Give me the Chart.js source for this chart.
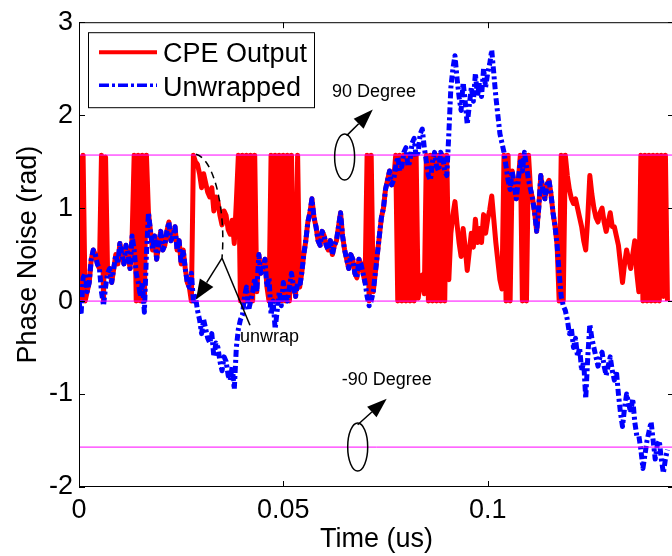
<!DOCTYPE html>
<html>
<head>
<meta charset="utf-8">
<script src="https://cdn.jsdelivr.net/npm/chart.js@4.4.1/dist/chart.umd.min.js"></script>
<style>
  html, body { margin: 0; padding: 0; background: #fff; overflow: hidden; }
  #wrap { position: relative; width: 676px; height: 556px; }
</style>
</head>
<body>
<div id="wrap"><canvas id="phaseChart" width="676" height="556"></canvas></div>
<script>
// sample spacing of the traces (us)
const timeStep = 0.0005;

// unwrapped phase (rad)
const unwrapped = [
  0.0, -0.15, 0.25, 0.3, 0.1, 0.2, 0.45, 0.55, 0.5, 0.4,
  0.35, 0.1, -0.05, 0.15, 0.3, 0.35, 0.2, 0.35, 0.5, 0.4,
  0.62, 0.5, 0.4, 0.6, 0.5, 0.35, 0.7, 0.55, 0.3, 0.2,
  0.05, 0.2, -0.12, 0.5, 0.95, 0.75, 0.55, 0.7, 0.45, 0.6,
  0.75, 0.55, 0.6, 0.75, 0.85, 0.65, 0.7, 0.8, 0.55, 0.65,
  0.4, 0.55, 0.35, 0.2, 0.15, 0.3, 0.0, 0.05, -0.1, -0.2,
  -0.35, -0.2, -0.3, -0.4, -0.45, -0.35, -0.6, -0.45, -0.5, -0.65,
  -0.75, -0.6, -0.65, -0.8, -0.85, -0.7, -0.95, -0.5, -0.3, -0.2,
  -0.15, 0.05, 0.15, -0.1, 0.0, 0.1, 0.25, 0.1, 0.5, 0.3,
  0.35, 0.45, 0.15, 0.25, -0.15, 0.0, -0.3, -0.1, 0.1, -0.05,
  0.2, 0.05, 0.0, 0.15, 0.3, 0.15, 0.05, 0.2, 0.15, 0.3,
  0.5, 0.65, 0.85, 0.95, 1.1, 0.9, 0.8, 0.65, 0.6, 0.75,
  0.7, 0.6, 0.55, 0.65, 0.5, 0.6, 0.65, 0.8, 0.95, 0.7,
  0.55, 0.45, 0.35, 0.5, 0.45, 0.3, 0.25, 0.45, 0.4, 0.3,
  0.2, 0.05, -0.05, 0.0, 0.1, 0.3, 0.5, 0.7, 0.9, 1.0,
  1.2, 1.3, 1.4, 1.25, 1.3, 1.45, 1.55, 1.4, 1.45, 1.6,
  1.65, 1.45, 1.5, 1.7, 1.75, 1.55, 1.6, 1.8, 1.85, 1.65,
  1.5, 1.35, 1.3, 1.5, 1.6, 1.45, 1.4, 1.6, 1.55, 1.4,
  1.35, 1.8, 2.3, 2.5, 2.64, 2.4, 2.2, 2.05, 2.35, 2.15,
  1.9, 2.1, 2.3, 2.15, 2.45, 2.2, 2.35, 2.2, 2.5, 2.3,
  2.45, 2.55, 2.7, 2.45, 2.2, 2.0, 1.8, 1.7, 1.6, 1.45,
  1.3, 1.2, 1.4, 1.25, 1.1, 1.3, 1.5, 1.4, 1.6, 1.45,
  1.3, 1.2, 1.1, 0.95, 0.75, 1.0, 1.35, 1.2, 1.1, 1.25,
  1.3, 1.15, 0.95, 0.8, 0.6, 0.3, 0.05, -0.05, -0.1, -0.2,
  -0.35, -0.3, -0.5, -0.4, -0.6, -0.5, -0.75, -0.65, -1.05, -0.6,
  -0.25, -0.4, -0.5, -0.6, -0.7, -0.6, -0.55, -0.7, -0.8, -0.7,
  -0.6, -0.75, -0.85, -0.75, -1.0, -1.2, -1.35, -1.15, -1.0, -1.1,
  -1.2, -1.05, -1.3, -1.45, -1.45, -1.6, -1.8, -1.65, -1.5, -1.4,
  -1.3, -1.5, -1.7, -1.55, -1.5, -1.7, -1.85, -1.7, -1.6
];

// CPE output (rad), wrapped into [0, pi/2], same samples
const cpeOutput = [
  1.57, 0.0, 1.57, 0.0, 0.1, 0.2, 0.45, 0.55, 0.5, 0.4,
  0.35, 1.57, 0.0, 1.55, 0.3, 0.35, 0.2, 0.35, 0.5, 0.4,
  0.62, 0.5, 0.4, 0.6, 0.5, 0.35, 0.7, 1.57, 0.0, 1.57,
  0.0, 1.57, 0.0, 1.57, 0.95, 0.75, 0.55, 0.7, 0.45, 0.6,
  0.75, 0.55, 0.6, 0.75, 0.85, 0.65, 0.7, 0.8, 0.55, 0.65,
  0.4, 0.55, 0.35, 0.2, 0.15, 0.0, 1.57, 1.5, 1.47, 1.37,
  1.22, 1.37, 1.27, 1.17, 1.12, 1.22, 0.97, 1.12, 1.07, 0.92,
  0.82, 0.97, 0.92, 0.77, 0.72, 0.87, 0.62, 1.07, 1.57, 0.0,
  1.57, 0.0, 1.57, 0.0, 1.57, 0.0, 1.57, 0.1, 0.5, 0.3,
  0.35, 0.45, 0.15, 0.0, 1.57, 0.0, 1.57, 0.0, 1.57, 0.0,
  1.57, 0.0, 1.57, 0.0, 1.57, 0.2, 0.05, 1.57, 0.15, 0.3,
  0.5, 0.65, 0.85, 0.95, 1.1, 0.9, 0.8, 0.65, 0.6, 0.75,
  0.7, 0.6, 0.55, 0.65, 0.5, 0.6, 0.65, 0.8, 0.95, 0.7,
  0.55, 0.45, 0.35, 0.5, 0.45, 0.3, 0.25, 0.45, 0.4, 0.3,
  0.2, 1.57, 0.0, 1.57, 0.1, 0.3, 0.5, 0.7, 0.9, 1.0,
  1.2, 1.3, 1.4, 1.25, 1.3, 1.57, 0.0, 1.57, 0.0, 1.57,
  0.0, 1.57, 0.0, 1.57, 0.0, 1.57, 0.03, 0.2, 0.28, 0.08,
  1.57, 0.0, 1.57, 0.0, 1.57, 0.0, 1.57, 0.0, 1.57, 0.0,
  1.57, 0.23, 0.73, 0.93, 1.07, 0.83, 0.63, 0.48, 0.78, 0.58,
  0.33, 0.53, 0.73, 0.58, 0.88, 0.63, 0.78, 0.63, 0.93, 0.73,
  0.88, 0.98, 1.13, 0.88, 0.63, 0.43, 0.23, 0.13, 1.57, 0.0,
  1.57, 0.0, 1.4, 1.25, 1.1, 1.3, 1.57, 0.0, 1.57, 0.0,
  1.57, 1.2, 1.1, 0.95, 0.75, 1.0, 1.35, 1.2, 1.1, 1.25,
  1.3, 1.15, 0.95, 0.8, 0.6, 0.0, 1.57, 0.0, 1.57, 1.35,
  1.2, 1.1, 1.05, 1.1, 1.0, 0.9, 0.8, 0.65, 0.55, 0.9,
  1.35, 1.15, 1.0, 0.9, 0.85, 0.95, 1.0, 0.85, 0.75, 0.85,
  0.95, 0.8, 0.8, 0.7, 0.6, 0.4, 0.2, 0.4, 0.55, 0.45,
  0.35, 0.5, 0.65, 0.3, 0.1, 1.57, 0.0, 1.57, 0.0, 1.57,
  0.0, 1.57, 0.0, 1.57, 0.0, 1.57, 0.05, 1.57, 0.0
];

// reference levels: +90, 0, -90 degree
const refLevels = [Math.PI / 2, 0, -Math.PI / 2];

const xTicks = [0, 0.05, 0.1];
const yTicks = [-2, -1, 0, 1, 2, 3];
const xMax = 0.1456;

const FONT = '"Liberation Sans", Arial, Helvetica, sans-serif';
Chart.defaults.font.family = FONT;
Chart.defaults.color = '#000';

const toPoints = arr => arr.map((v, i) => ({ x: i * timeStep, y: v }));

const refSets = refLevels.map(v => ({
  label: 'ref',
  data: [{ x: 0, y: v }, { x: xMax, y: v }],
  borderColor: '#ff00ff',
  borderWidth: 1,
  pointRadius: 0,
  order: 0
}));

// box, inward tick marks
const framePlugin = {
  id: 'frame',
  afterDraw(chart) {
    const { ctx, chartArea: a, scales: { x, y } } = chart;
    ctx.save();
    ctx.strokeStyle = '#000';
    ctx.lineWidth = 1;
    ctx.strokeRect(a.left + 0.5, a.top + 0.5, a.right - a.left - 1, a.bottom - a.top - 1);
    ctx.beginPath();
    xTicks.forEach(v => {
      const p = Math.round(x.getPixelForValue(v)) + 0.5;
      ctx.moveTo(p, a.bottom); ctx.lineTo(p, a.bottom - 6);
      ctx.moveTo(p, a.top); ctx.lineTo(p, a.top + 6);
    });
    yTicks.forEach(v => {
      const p = Math.round(y.getPixelForValue(v)) + 0.5;
      ctx.moveTo(a.left, p); ctx.lineTo(a.left + 6, p);
      ctx.moveTo(a.right, p); ctx.lineTo(a.right - 6, p);
    });
    ctx.stroke();
    ctx.restore();
  }
};

function arrow(ctx, x0, y0, x1, y1, len, half) {
  const ang = Math.atan2(y1 - y0, x1 - x0);
  const bx = x1 - len * Math.cos(ang), by = y1 - len * Math.sin(ang);
  ctx.beginPath();
  ctx.moveTo(x0, y0); ctx.lineTo(bx, by);
  ctx.stroke();
  ctx.beginPath();
  ctx.moveTo(x1, y1);
  ctx.lineTo(bx + half * Math.sin(ang), by - half * Math.cos(ang));
  ctx.lineTo(bx - half * Math.sin(ang), by + half * Math.cos(ang));
  ctx.closePath();
  ctx.fill();
}

// annotations and MATLAB-style legend
const notesPlugin = {
  id: 'notes',
  afterDraw(chart) {
    const { ctx, chartArea: a, scales: { x, y } } = chart;
    const px = v => x.getPixelForValue(v), py = v => y.getPixelForValue(v);
    ctx.save();
    ctx.strokeStyle = '#000';
    ctx.fillStyle = '#000';
    ctx.lineWidth = 1.5;
    ctx.font = '18px ' + FONT;
    ctx.textBaseline = 'alphabetic';
    ctx.fillText('90 Degree', px(0.0619), py(2.2));
    ctx.fillText('-90 Degree', px(0.0643), py(-0.9));
    ctx.fillText('unwrap', px(0.0394), py(-0.44));

    ctx.beginPath();
    ctx.ellipse(px(0.065), py(1.55), 10, 23, 0, 0, Math.PI * 2);
    ctx.stroke();
    ctx.beginPath();
    ctx.ellipse(px(0.0682), py(-1.57), 10, 24, 0, 0, Math.PI * 2);
    ctx.stroke();
    arrow(ctx, px(0.0655), py(1.78), px(0.0719), py(2.06), 20, 7);
    arrow(ctx, px(0.0682), py(-1.33), px(0.0753), py(-1.05), 20, 7);

    // dashed half ellipse around the jump, then arrow + pointer line
    ctx.setLineDash([7, 5]);
    ctx.beginPath();
    ctx.moveTo(px(0.02863), py(1.58));
    ctx.bezierCurveTo(px(0.03328), py(1.527), px(0.03597), py(0.941), px(0.03499), py(0.463));
    ctx.stroke();
    ctx.setLineDash([]);
    arrow(ctx, px(0.03499), py(0.463), px(0.02863), py(0.016), 20, 8);
    ctx.beginPath();
    ctx.moveTo(px(0.03499), py(0.463));
    ctx.lineTo(px(0.04184), py(-0.26));
    ctx.stroke();

    // legend box
    const lx = a.left + 9, ly = a.top + 10;
    ctx.fillStyle = '#fff';
    ctx.fillRect(lx, ly, 226, 75);
    ctx.lineWidth = 1;
    ctx.strokeRect(lx + 0.5, ly + 0.5, 226, 75);
    ctx.lineWidth = 4;
    ctx.strokeStyle = '#ff0000';
    ctx.beginPath(); ctx.moveTo(lx + 11, ly + 20); ctx.lineTo(lx + 69, ly + 20); ctx.stroke();
    ctx.lineWidth = 3.5;
    ctx.strokeStyle = '#0000ff';
    ctx.setLineDash([10, 3, 3, 3]);
    ctx.beginPath(); ctx.moveTo(lx + 11, ly + 53); ctx.lineTo(lx + 69, ly + 53); ctx.stroke();
    ctx.setLineDash([]);
    ctx.fillStyle = '#000';
    ctx.font = '27px ' + FONT;
    ctx.fillText('CPE Output', lx + 75, ly + 30);
    ctx.fillText('Unwrapped', lx + 75, ly + 64);
    ctx.restore();
  }
};

new Chart(document.getElementById('phaseChart'), {
  type: 'line',
  data: {
    datasets: [
      {
        label: 'CPE Output',
        data: toPoints(cpeOutput),
        borderColor: '#ff0000',
        borderWidth: 5,
        borderJoinStyle: 'round',
        pointRadius: 0,
        order: 2
      },
      {
        label: 'Unwrapped',
        data: toPoints(unwrapped),
        borderColor: '#0000ff',
        borderWidth: 5,
        borderJoinStyle: 'round',
        borderDash: [7, 3, 3, 3],
        pointRadius: 0,
        order: 1
      },
      ...refSets
    ]
  },
  options: {
    responsive: false,
    animation: false,
    layout: { padding: { top: 17, right: 2, left: 0, bottom: 0 } },
    plugins: { legend: { display: false }, tooltip: { enabled: false } },
    elements: { line: { tension: 0 } },
    scales: {
      x: {
        type: 'linear',
        min: 0,
        max: xMax,
        afterBuildTicks: s => { s.ticks = xTicks.map(v => ({ value: v })); },
        afterFit: s => { s.height = 69; },
        ticks: { font: { size: 27 }, padding: 7, maxRotation: 0, autoSkip: false, callback: v => String(v) },
        grid: { display: false, drawTicks: false },
        border: { display: false },
        title: { display: true, text: 'Time (us)', font: { size: 27 }, padding: { top: 0, bottom: 0 } }
      },
      y: {
        min: -2,
        max: 3,
        afterBuildTicks: s => { s.ticks = yTicks.map(v => ({ value: v })); },
        afterFit: s => { s.width = 79; },
        ticks: { font: { size: 27 }, padding: 6, autoSkip: false, callback: v => String(v) },
        grid: { display: false, drawTicks: false },
        border: { display: false },
        title: { display: true, text: 'Phase Noise (rad)', font: { size: 27 }, padding: { top: 12, bottom: 0 } }
      }
    }
  },
  plugins: [framePlugin, notesPlugin]
});
</script>
</body>
</html>
